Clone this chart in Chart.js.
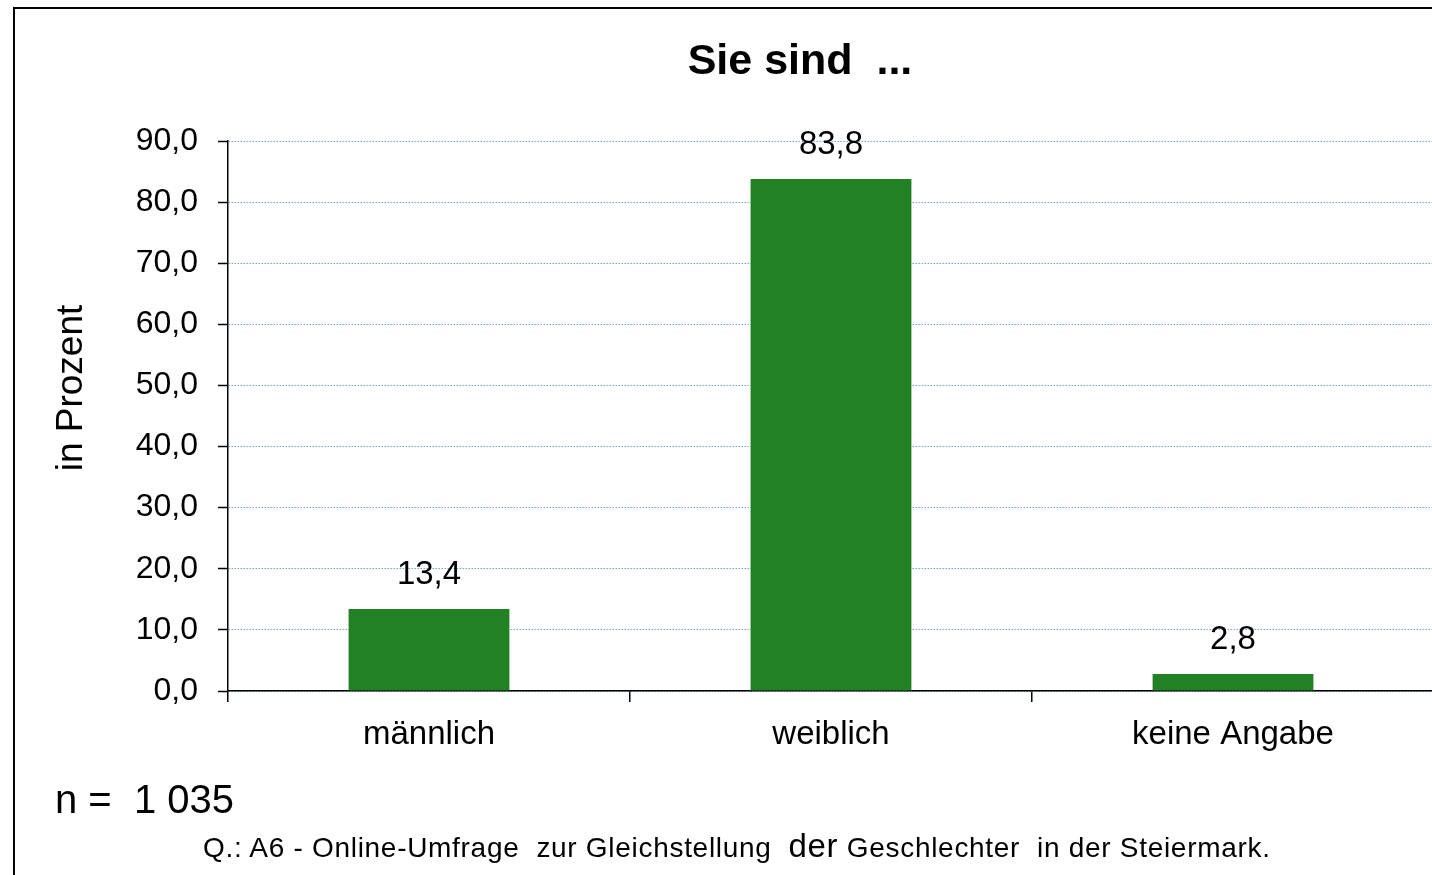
<!DOCTYPE html>
<html lang="de">
<head>
<meta charset="utf-8">
<title>Sie sind ...</title>
<script src="https://cdn.jsdelivr.net/npm/chart.js@4/dist/chart.umd.min.js"></script>
<style>
  html, body {
    margin: 0;
    padding: 0;
    width: 1432px;
    height: 875px;
    overflow: hidden;
    background: #fff;
    font-family: "Liberation Sans", Arial, sans-serif;
  }
  .frame {
    position: absolute;
    left: 13px;
    top: 7px;
    width: 1600px;
    height: 1000px;
    border-left: 2px solid #000;
    border-top: 2px solid #000;
  }
  #chart {
    position: absolute;
    left: 0;
    top: 0;
  }
  .sample {
    position: absolute;
    left: 55px;
    top: 779px;
    font-size: 40px;
    line-height: 40px;
    white-space: pre;
    color: #000;
  }
  .source {
    position: absolute;
    left: 203px;
    top: 830px;
    font-size: 28px;
    line-height: 32px;
    letter-spacing: 0.7px;
    white-space: pre;
    color: #000;
  }
  .source b {
    font-size: 33px;
    font-weight: normal;
  }
</style>
</head>
<body>
<div class="frame"></div>
<canvas id="chart" width="1434" height="875"></canvas>
<div class="sample">n =  1 035</div>
<div class="source">Q.: A6 - Online-Umfrage  zur Gleichstellung  <b>der</b> Geschlechter  in der Steiermark.</div>

<script>
const categories = ['männlich', 'weiblich', 'keine Angabe']
const shares = [13.4, 83.8, 2.8]
const yTicks = [0, 10, 20, 30, 40, 50, 60, 70, 80, 90]

const chartTitle = 'Sie sind  ...'
const yTitle = 'in Prozent'

const FONT = '"Liberation Sans", Arial, sans-serif'

// German decimal comma, one decimal place
const fmt = v => v.toFixed(1).replace('.', ',')

// values above bars, rotated y axis title and the chart title
// (title sits off-centre in the original, so it is drawn here)
const annotations = {
  id: 'annotations',
  afterDatasetsDraw(chart) {
    const {ctx} = chart
    const meta = chart.getDatasetMeta(0)
    ctx.save()
    ctx.fillStyle = '#000'
    ctx.textAlign = 'center'
    ctx.textBaseline = 'middle'

    ctx.font = '33px ' + FONT
    meta.data.forEach((bar, i) => {
      ctx.fillText(fmt(shares[i]), bar.x, bar.y - 34)
    })

    ctx.font = 'bold 43px ' + FONT
    ctx.fillText(chartTitle, 800, 62)

    const yScale = chart.scales.y
    ctx.translate(72, (yScale.top + yScale.bottom) / 2 - 28)
    ctx.rotate(-Math.PI / 2)
    ctx.font = '37px ' + FONT
    ctx.fillText(yTitle, 0, 0)
    ctx.restore()
  }
}

const canvas = document.getElementById('chart')

new Chart(canvas, {
  type: 'bar',
  data: {
    labels: categories,
    datasets: [
      {
        label: 'Anteil',
        data: shares,
        backgroundColor: '#228025',
        borderWidth: 0,
        categoryPercentage: 1,
        barPercentage: 0.4
      }
    ]
  },
  plugins: [annotations],
  options: {
    responsive: false,
    animation: false,
    devicePixelRatio: 1,
    layout: {
      padding: {left: 0, right: 0, top: 141, bottom: 0}
    },
    plugins: {
      legend: {display: false},
      tooltip: {enabled: false},
      title: {display: false}
    },
    scales: {
      x: {
        afterFit(scale) {
          scale.height = 184
        },
        grid: {
          display: true,
          offset: true,
          drawOnChartArea: false,
          drawTicks: true,
          tickLength: 11,
          tickColor: '#000',
          lineWidth: 1.5,
          color: '#000'
        },
        border: {display: true, color: '#000', width: 1.5},
        ticks: {
          color: '#000',
          padding: 13,
          maxRotation: 0,
          font: {family: FONT, size: 33}
        }
      },
      y: {
        min: 0,
        max: 90,
        afterFit(scale) {
          scale.width = 228
        },
        afterBuildTicks(scale) {
          scale.ticks = yTicks.map(v => ({value: v}))
        },
        grid: {
          color: '#6EA6E0',
          lineWidth: 1,
          drawTicks: true,
          tickLength: 10,
          tickColor: '#000',
          tickWidth: 1.5
        },
        border: {display: true, color: '#000', width: 1.5, dash: [1.5, 1.5]},
        ticks: {
          color: '#000',
          padding: 20,
          font: {family: FONT, size: 32},
          callback: v => fmt(v)
        }
      }
    }
  }
})
</script>
</body>
</html>
